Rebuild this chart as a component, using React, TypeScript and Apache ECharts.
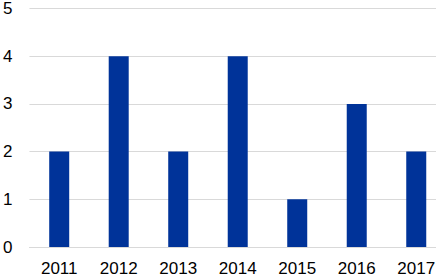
import React, { useEffect, useRef } from "react";
import * as echarts from "echarts";

const categories = ["2011", "2012", "2013", "2014", "2015", "2016", "2017"];
const values = [2, 4, 2, 4, 1, 3, 2];
const yTicks = [0, 1, 2, 3, 4, 5];

export default function App() {
  const ref = useRef<HTMLDivElement>(null);
  useEffect(() => {
    document.body.style.margin = "0";
    const chart = echarts.init(ref.current!, null, { renderer: "svg" });
    chart.setOption({
      animation: false,
      grid: { left: 26, right: 0, top: 5, bottom: 31, containLabel: false },
      xAxis: {
        type: "category",
        data: categories,
        axisLine: { show: true, lineStyle: { color: "#d9d9d9", width: 1 } },
        axisTick: { show: false },
        axisLabel: {
          color: "#000",
          fontSize: 17,
          fontFamily: "Liberation Sans",
          margin: 13,
        },
      },
      yAxis: {
        type: "value",
        min: yTicks[0],
        max: yTicks[yTicks.length - 1],
        interval: 1,
        axisLine: { show: false },
        axisTick: { show: false },
        splitLine: { lineStyle: { color: "#d9d9d9", width: 1 } },
        axisLabel: {
          color: "#000",
          fontSize: 17,
          fontFamily: "Liberation Sans",
          margin: 17,
        },
      },
      series: [
        {
          type: "bar",
          data: values,
          barWidth: 20,
          itemStyle: { color: "#003399" },
        },
      ],
    });
    return () => chart.dispose();
  }, []);
  return (
    <div
      style={{ position: "absolute", left: 0, top: 0, width: 436, height: 278, overflow: "hidden" }}
    >
      <div ref={ref} style={{ width: 446, height: 278 }} />
    </div>
  );
}
